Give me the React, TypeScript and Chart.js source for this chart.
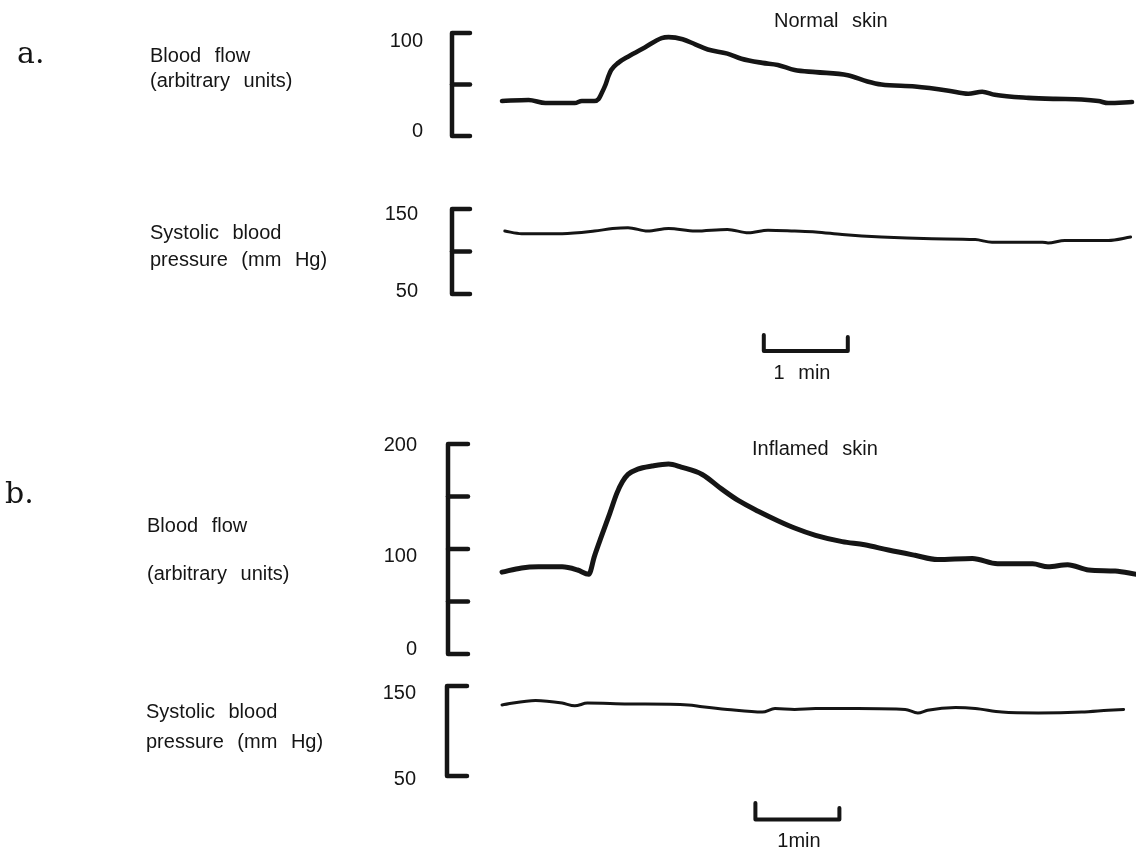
import React, { useEffect, useRef } from 'react';
import { Chart, registerables } from 'chart.js';

Chart.register(...registerables);

// ---------------- data (time in seconds, values in axis units) ----------------
const normalFlowTime = [0, 19, 31, 52, 57, 66, 69, 71, 74, 76, 78, 83, 90, 102, 114, 119, 129, 138, 147, 161, 171, 186, 197, 209, 224, 247, 261, 271, 295, 319, 333, 343, 352, 376, 395, 414, 426, 433, 450];
const normalFlowValue = [34, 35, 32, 32, 34, 34, 36, 41, 50, 58, 64, 71, 77, 86, 95, 96, 94, 89, 84, 80, 75, 71, 69, 64, 62, 59, 53, 50, 48, 44, 41, 43, 40, 37, 36, 35.5, 34, 32, 33];

const normalPressureTime = [2, 14, 43, 66, 79, 90, 104, 119, 138, 161, 176, 190, 209, 224, 243, 271, 307, 338, 350, 386, 390, 402, 433, 449];
const normalPressureValue = [124, 121, 121, 124, 127, 128, 124, 127, 124, 126, 122, 125, 124, 123, 120, 117, 115, 114, 111, 111, 110, 113, 113, 117];

const inflamedFlowTime = [0, 14, 26, 43, 54, 62, 66, 71, 77, 82, 86, 90, 97, 107, 119, 128, 143, 157, 169, 183, 197, 209, 224, 243, 259, 276, 295, 311, 336, 354, 379, 390, 404, 419, 438, 453];
const inflamedFlowValue = [78, 82, 83, 83, 80, 76, 93, 112, 134, 153, 164, 171, 176, 179, 181, 178, 171, 157, 146, 136, 127, 120, 113, 107, 104, 99, 94, 90, 91, 86, 86, 83, 85, 80, 79, 76];

const inflamedPressureTime = [0, 24, 43, 52, 61, 90, 133, 143, 161, 186, 195, 209, 224, 254, 288, 297, 304, 324, 338, 357, 383, 414, 433, 444];
const inflamedPressureValue = [129, 134, 131, 128, 131, 130, 129, 127, 124, 121, 125, 124, 125, 125, 124, 120, 123, 126, 125, 121, 120, 121, 123, 124];

// tick values and labels of the calibration brackets
const normalFlowTicks = [0, 50, 100];
const normalFlowTickLabels = ['0', '', '100'];
const normalPressureTicks = [50, 100, 150];
const normalPressureTickLabels = ['50', '', '150'];
const inflamedFlowTicks = [0, 50, 100, 150, 200];
const inflamedFlowTickLabels = ['0', '', '100', '', '200'];
const inflamedPressureTicks = [50, 150];
const inflamedPressureTickLabels = ['50', '150'];

// time scale bars (start time, seconds)
const scaleBarStarts = [187, 181];
const scaleBarSeconds = 60;

// ---------------- layout ----------------
const W = 1136;
const H = 854;
const INK = '#151515';
const SANS = '"Liberation Sans", Arial, Helvetica, sans-serif';
const SERIF = '"DejaVu Serif", "Liberation Serif", serif';

const PX_T0 = 502; // pixel of t = 0
const PX_PER_S = 1.4; // 84 px per minute
const X_MIN = -PX_T0 / PX_PER_S;
const X_MAX = (W - PX_T0) / PX_PER_S;

function yRange(vLow: number, pLow: number, vHigh: number, pHigh: number) {
  const k = (pLow - pHigh) / (vHigh - vLow);
  return { min: vLow - (H - pLow) / k, max: vHigh + pHigh / k };
}

const AXES: Record<string, { min: number; max: number }> = {
  bfA: yRange(0, 136, 100, 33),
  bpA: yRange(50, 294, 150, 209),
  bfB: yRange(0, 654, 200, 444),
  bpB: yRange(50, 776, 150, 686),
};

const BRACKETS = [
  { axis: 'bfA', x: 452, len: 18, ticks: normalFlowTicks, labels: normalFlowTickLabels, labelRight: 423, shift: [-6, 0, 6.5] },
  { axis: 'bpA', x: 452, len: 18, ticks: normalPressureTicks, labels: normalPressureTickLabels, labelRight: 418, shift: [-4, 0, 3.5] },
  { axis: 'bfB', x: 448, len: 20, ticks: inflamedFlowTicks, labels: inflamedFlowTickLabels, labelRight: 417, shift: [-6, 0, 6, 0, 0] },
  { axis: 'bpB', x: 447, len: 20, ticks: inflamedPressureTicks, labels: inflamedPressureTickLabels, labelRight: 416, shift: [2, 5.7] },
];

const BARS = [
  { start: scaleBarStarts[0], leftTop: 335, rightTop: 337, base: 351 },
  { start: scaleBarStarts[1], leftTop: 803, rightTop: 808, base: 819.5 },
];

const bracketPlugin = {
  id: 'calibrationBrackets',
  afterDatasetsDraw(chart: any) {
    const ctx = chart.ctx as CanvasRenderingContext2D;
    ctx.save();
    ctx.strokeStyle = INK;
    ctx.fillStyle = INK;
    ctx.lineWidth = 4.5;
    ctx.lineCap = 'round';
    ctx.lineJoin = 'round';
    for (const b of BRACKETS) {
      const s = chart.scales[b.axis];
      const ys = b.ticks.map((v: number) => s.getPixelForValue(v));
      const top = Math.min(...ys);
      const bot = Math.max(...ys);
      ctx.beginPath();
      ctx.moveTo(b.x + b.len, top);
      ctx.lineTo(b.x, top);
      ctx.lineTo(b.x, bot);
      ctx.lineTo(b.x + b.len, bot);
      ctx.stroke();
      ys.forEach((y: number) => {
        if (y !== top && y !== bot) {
          ctx.beginPath();
          ctx.moveTo(b.x, y);
          ctx.lineTo(b.x + b.len, y);
          ctx.stroke();
        }
      });
      ctx.font = '20px ' + SANS;
      ctx.textAlign = 'right';
      ctx.textBaseline = 'alphabetic';
      b.labels.forEach((lab: string, i: number) => {
        if (lab) ctx.fillText(lab, b.labelRight, ys[i] + b.shift[i] + 7.2);
      });
    }
    const xs = chart.scales.x;
    ctx.lineWidth = 4;
    for (const bar of BARS) {
      const x0 = xs.getPixelForValue(bar.start);
      const x1 = xs.getPixelForValue(bar.start + scaleBarSeconds);
      ctx.beginPath();
      ctx.moveTo(x0, bar.leftTop);
      ctx.lineTo(x0, bar.base);
      ctx.lineTo(x1, bar.base);
      ctx.lineTo(x1, bar.rightTop);
      ctx.stroke();
    }
    ctx.restore();
  },
};

function pts(t: number[], v: number[]) {
  return t.map((x, i) => ({ x, y: v[i] }));
}

type LabelProps = { x: number; baseline: number; text: string; center?: boolean; serif?: boolean };

function Label({ x, baseline, text, center, serif }: LabelProps) {
  const size = serif ? 30 : 20;
  const offset = serif ? 25.4 : 16.9;
  return (
    <div
      style={{
        position: 'absolute',
        left: x,
        top: baseline - offset,
        fontFamily: serif ? SERIF : SANS,
        fontSize: size,
        lineHeight: size + 'px',
        wordSpacing: serif ? 0 : 8,
        whiteSpace: 'nowrap',
        color: INK,
        transform: center ? 'translateX(-50%)' : undefined,
      }}
    >
      {text}
    </div>
  );
}

export default function App() {
  const ref = useRef<HTMLCanvasElement | null>(null);

  useEffect(() => {
    if (!ref.current) return;
    const line = (label: string, data: any[], axis: string, width: number) => ({
      label,
      data,
      yAxisID: axis,
      borderColor: INK,
      backgroundColor: INK,
      borderWidth: width,
      pointRadius: 0,
      fill: false,
      cubicInterpolationMode: 'monotone' as const,
      borderCapStyle: 'round' as const,
      borderJoinStyle: 'round' as const,
    });
    const yAxis = (key: string) => ({ type: 'linear' as const, display: false, min: AXES[key].min, max: AXES[key].max });
    const chart = new Chart(ref.current, {
      type: 'line',
      data: {
        datasets: [
          line('Normal skin: blood flow', pts(normalFlowTime, normalFlowValue), 'bfA', 4.6),
          line('Normal skin: systolic blood pressure', pts(normalPressureTime, normalPressureValue), 'bpA', 3),
          line('Inflamed skin: blood flow', pts(inflamedFlowTime, inflamedFlowValue), 'bfB', 5),
          line('Inflamed skin: systolic blood pressure', pts(inflamedPressureTime, inflamedPressureValue), 'bpB', 3),
        ],
      },
      options: {
        animation: false,
        responsive: false,
        devicePixelRatio: 1,
        events: [],
        layout: { padding: 0 },
        plugins: { legend: { display: false }, tooltip: { enabled: false }, title: { display: false } },
        scales: {
          x: { type: 'linear', display: false, min: X_MIN, max: X_MAX },
          bfA: yAxis('bfA'),
          bpA: yAxis('bpA'),
          bfB: yAxis('bfB'),
          bpB: yAxis('bpB'),
        },
      },
      plugins: [bracketPlugin],
    });
    return () => chart.destroy();
  }, []);

  return (
    <div style={{ position: 'absolute', left: 0, top: 0, width: W, height: H, overflow: 'hidden', background: '#fff' }}>
      <canvas ref={ref} width={W} height={H} style={{ position: 'absolute', left: 0, top: 0 }} />
      <Label x={17} baseline={63} text="a." serif />
      <Label x={150} baseline={62} text="Blood flow" />
      <Label x={150} baseline={87} text="(arbitrary units)" />
      <Label x={150} baseline={239} text="Systolic blood" />
      <Label x={150} baseline={266} text="pressure (mm Hg)" />
      <Label x={774} baseline={27} text="Normal skin" />
      <Label x={802} baseline={379} text="1 min" center />
      <Label x={5} baseline={503} text="b." serif />
      <Label x={147} baseline={532} text="Blood flow" />
      <Label x={147} baseline={580} text="(arbitrary units)" />
      <Label x={146} baseline={718} text="Systolic blood" />
      <Label x={146} baseline={748} text="pressure (mm Hg)" />
      <Label x={752} baseline={455} text="Inflamed skin" />
      <Label x={799} baseline={847} text="1min" center />
    </div>
  );
}
